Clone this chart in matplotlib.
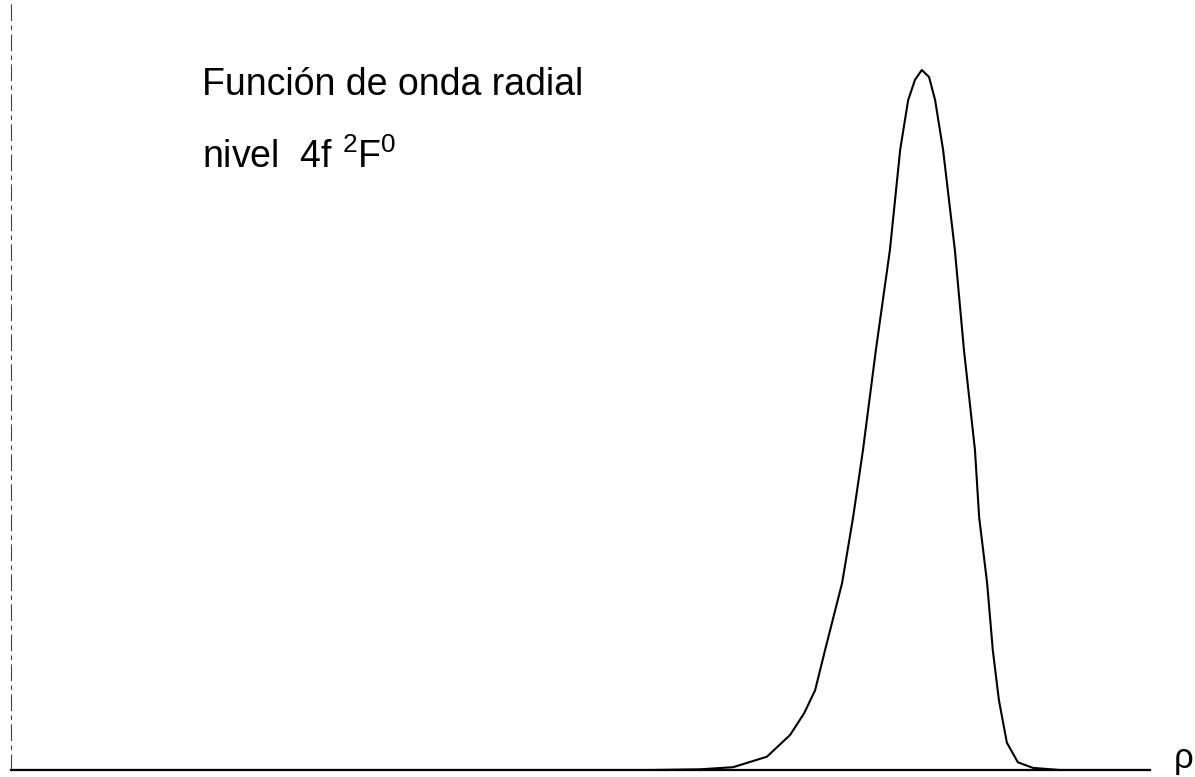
import matplotlib
matplotlib.use('Agg')
import matplotlib.pyplot as plt

plt.rcParams['font.family'] = ['Liberation Sans', 'DejaVu Sans']
plt.rcParams['mathtext.fontset'] = 'custom'
plt.rcParams['mathtext.rm'] = 'Liberation Sans'
plt.rcParams['mathtext.it'] = 'Liberation Sans:italic'
plt.rcParams['mathtext.bf'] = 'Liberation Sans:bold'

# radial wave function (rho in arbitrary units, psi normalised to the peak)
rho_left = [0.0, 16.83, 18.15, 19.02, 19.91, 20.52, 20.89, 21.18, 21.44, 21.89, 22.18,
            22.44, 22.78, 23.15, 23.42, 23.63, 23.81, 23.99]
psi_left = [0.0, 0.0, 0.001, 0.004, 0.019, 0.050, 0.081, 0.114, 0.171, 0.267, 0.361,
            0.457, 0.600, 0.743, 0.886, 0.957, 0.986, 1.0]
rho_right = [24.18, 24.34, 24.55, 24.86, 25.10, 25.39, 25.50, 25.71, 25.86, 26.02,
             26.23, 26.52, 26.92, 27.63, 30.0]
psi_right = [0.990, 0.957, 0.886, 0.743, 0.600, 0.457, 0.361, 0.267, 0.171, 0.100,
             0.039, 0.011, 0.003, 0.0, 0.0]

rho = rho_left + rho_right
psi = psi_left + psi_right

title_1 = 'Función de onda radial'
title_2 = 'nivel  4f $^{2}$F$^{0}$'
x_label = 'ρ'

W, H = 1195, 777
fig = plt.figure(figsize=(W / 100, H / 100), dpi=100)
ax = fig.add_axes([11 / W, 7 / H, 1139 / W, 770 / H])

ax.plot(rho, psi, color='black', lw=1.5, solid_joinstyle='round')

ax.set_xlim(0, 30)
ax.set_ylim(0, 1.1)
ax.set_xticks([])
ax.set_yticks([])
ax.spines['top'].set_visible(False)
ax.spines['right'].set_visible(False)
ax.spines['bottom'].set_linewidth(1.6)
ax.spines['left'].set_linewidth(0.8)
ax.spines['left'].set_color('#444444')
ax.spines['left'].set_linestyle((0, (14, 5, 3, 5)))

fig.text(202 / W, (H - 95) / H, title_1, fontsize=27, va='baseline', ha='left')
fig.text(202 / W, (H - 168) / H, title_2, fontsize=27, va='baseline', ha='left')
fig.text(1184 / W, 2 / H, x_label, fontsize=25, va='bottom', ha='center')

fig.savefig('out.png', dpi=100)
